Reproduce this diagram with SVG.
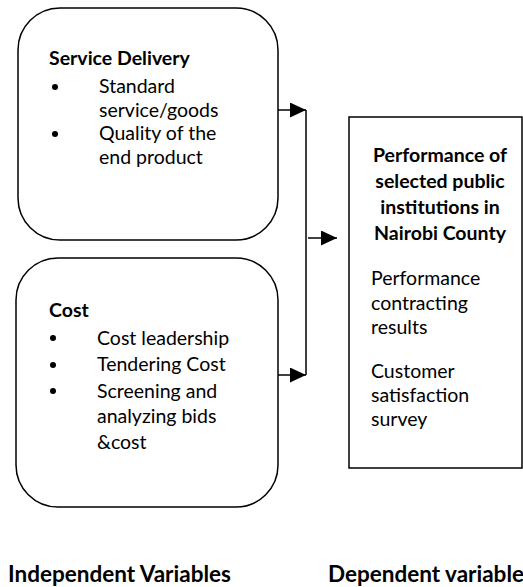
<svg xmlns="http://www.w3.org/2000/svg" width="523" height="587" viewBox="0 0 523 587">
<style>
.box{fill:#fff;stroke:#000;stroke-width:1.5}
.t{font-family:Lato,"Liberation Sans",sans-serif;font-size:19.5px;fill:#000}
.b{font-weight:bold}
.lab{font-size:22.5px}
.ln{stroke:#000;stroke-width:1.5;fill:none}
</style>
<defs>
<marker id="ah" viewBox="0 0 16 15" refX="16" refY="7.5" markerWidth="16" markerHeight="15" markerUnits="userSpaceOnUse" orient="auto">
<path d="M0,0 L16,7.5 L0,15 z" fill="#000"/>
</marker>
</defs>
<rect width="523" height="587" fill="#fff"/>
<g id="service-delivery">
<rect class="box" x="18" y="8" width="260" height="232" rx="42"/>
<text class="t b" x="49" y="65">Service Delivery</text>
<circle cx="55" cy="87" r="3"/>
<text class="t" x="99" y="93">Standard</text>
<text class="t" x="99" y="117">service/goods</text>
<circle cx="55" cy="134" r="3"/>
<text class="t" x="99" y="140">Quality of the</text>
<text class="t" x="99" y="164">end product</text>
</g>
<g id="cost">
<rect class="box" x="16" y="258" width="262" height="249" rx="42"/>
<text class="t b" x="49" y="317">Cost</text>
<circle cx="53" cy="338" r="3"/>
<text class="t" x="97" y="345">Cost leadership</text>
<circle cx="53" cy="365" r="3"/>
<text class="t" x="97" y="371">Tendering Cost</text>
<circle cx="53" cy="391" r="3"/>
<text class="t" x="97" y="398">Screening and</text>
<text class="t" x="97" y="423">analyzing bids</text>
<text class="t" x="97" y="449">&amp;cost</text>
</g>
<g id="performance">
<rect class="box" x="349" y="117" width="173" height="351"/>
<text class="t b" text-anchor="middle" x="440" y="162">Performance of</text>
<text class="t b" text-anchor="middle" x="440" y="188">selected public</text>
<text class="t b" text-anchor="middle" x="440" y="214">institutions in</text>
<text class="t b" text-anchor="middle" x="440" y="240">Nairobi County</text>
<text class="t" x="371" y="285">Performance</text>
<text class="t" x="371" y="310">contracting</text>
<text class="t" x="371" y="334">results</text>
<text class="t" x="371" y="378">Customer</text>
<text class="t" x="371" y="402">satisfaction</text>
<text class="t" x="371" y="426">survey</text>
</g>
<g id="labels">
<text class="t b lab" x="8" y="582">Independent Variables</text>
<text class="t b lab" x="328" y="582">Dependent variable</text>
</g>
<g id="connectors">
<line class="ln" x1="278" y1="110" x2="306" y2="110" marker-end="url(#ah)"/>
<line class="ln" x1="278" y1="375" x2="306" y2="375" marker-end="url(#ah)"/>
<line class="ln" x1="306" y1="110" x2="306" y2="375"/>
<line class="ln" x1="308" y1="238" x2="337" y2="238" marker-end="url(#ah)"/>
</g>
</svg>
